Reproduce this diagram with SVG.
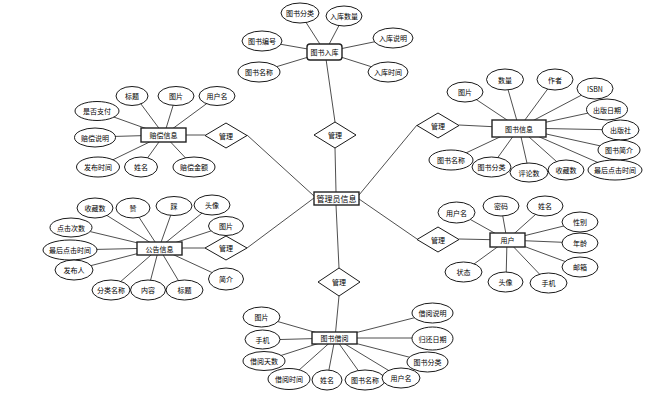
<svg xmlns="http://www.w3.org/2000/svg" width="658" height="405" viewBox="0 0 658 405">
<style>
.e{fill:#fff;stroke:#000;stroke-width:0.9}
.b{fill:#fff;stroke:#222;stroke-width:1.4}
.d{fill:#fff;stroke:#000;stroke-width:0.9}
.c line{stroke:#222;stroke-width:0.8}
text{font-family:"Noto Sans CJK SC","Liberation Sans",sans-serif;font-size:7px;text-anchor:middle;dominant-baseline:central;fill:#000}
.t{font-size:8px}
</style>
<rect width="658" height="405" fill="#fff"/>
<g class="c" id="connectors">
<!-- center relations -->
<line x1="325" y1="52" x2="335" y2="122"/>
<line x1="335" y1="148" x2="336" y2="192"/>
<line x1="164" y1="135" x2="205" y2="135"/>
<line x1="247" y1="135" x2="314" y2="196"/>
<line x1="159" y1="248" x2="205" y2="248"/>
<line x1="247" y1="248" x2="314" y2="198"/>
<line x1="459" y1="125" x2="519" y2="128"/>
<line x1="417" y1="125" x2="359" y2="195"/>
<line x1="459" y1="239" x2="507" y2="240"/>
<line x1="417" y1="239" x2="359" y2="199"/>
<line x1="336" y1="205" x2="339" y2="268"/>
<line x1="339" y1="296" x2="335" y2="338"/>
<!-- 图书入库 -->
<line x1="325" y1="52" x2="300" y2="13"/>
<line x1="325" y1="52" x2="344" y2="16"/>
<line x1="325" y1="52" x2="262" y2="41"/>
<line x1="325" y1="52" x2="393" y2="38"/>
<line x1="325" y1="52" x2="259" y2="72"/>
<line x1="325" y1="52" x2="388" y2="72"/>
<!-- 赔偿信息 -->
<line x1="164" y1="135" x2="135" y2="96"/>
<line x1="164" y1="135" x2="176" y2="96"/>
<line x1="164" y1="135" x2="217" y2="96"/>
<line x1="164" y1="135" x2="97" y2="111"/>
<line x1="164" y1="135" x2="95" y2="137"/>
<line x1="164" y1="135" x2="98" y2="167"/>
<line x1="164" y1="135" x2="141" y2="167"/>
<line x1="164" y1="135" x2="194" y2="167"/>
<!-- 图书信息 -->
<line x1="519" y1="128" x2="465" y2="92"/>
<line x1="519" y1="128" x2="505" y2="79"/>
<line x1="519" y1="128" x2="555" y2="79"/>
<line x1="519" y1="128" x2="595" y2="88"/>
<line x1="519" y1="128" x2="607" y2="109"/>
<line x1="519" y1="128" x2="621" y2="130"/>
<line x1="519" y1="128" x2="619" y2="150"/>
<line x1="519" y1="128" x2="615" y2="170"/>
<line x1="519" y1="128" x2="566" y2="170"/>
<line x1="519" y1="128" x2="529" y2="172"/>
<line x1="519" y1="128" x2="491" y2="167"/>
<line x1="519" y1="128" x2="451" y2="160"/>
<!-- 公告信息 -->
<line x1="159" y1="248" x2="95" y2="208"/>
<line x1="159" y1="248" x2="133" y2="208"/>
<line x1="159" y1="248" x2="174" y2="206"/>
<line x1="159" y1="248" x2="212" y2="205"/>
<line x1="159" y1="248" x2="226" y2="226"/>
<line x1="159" y1="248" x2="71" y2="227"/>
<line x1="159" y1="248" x2="70" y2="250"/>
<line x1="159" y1="248" x2="74" y2="270"/>
<line x1="159" y1="248" x2="111" y2="290"/>
<line x1="159" y1="248" x2="148" y2="290"/>
<line x1="159" y1="248" x2="184" y2="290"/>
<line x1="159" y1="248" x2="226" y2="279"/>
<!-- 用户 -->
<line x1="507" y1="240" x2="457" y2="212"/>
<line x1="507" y1="240" x2="501" y2="206"/>
<line x1="507" y1="240" x2="545" y2="206"/>
<line x1="507" y1="240" x2="580" y2="222"/>
<line x1="507" y1="240" x2="580" y2="243"/>
<line x1="507" y1="240" x2="580" y2="267"/>
<line x1="507" y1="240" x2="548" y2="283"/>
<line x1="507" y1="240" x2="506" y2="282"/>
<line x1="507" y1="240" x2="463" y2="272"/>
<!-- 图书借阅 -->
<line x1="335" y1="338" x2="262" y2="317"/>
<line x1="335" y1="338" x2="262" y2="340"/>
<line x1="335" y1="338" x2="264" y2="361"/>
<line x1="335" y1="338" x2="289" y2="379"/>
<line x1="335" y1="338" x2="327" y2="380"/>
<line x1="335" y1="338" x2="365" y2="380"/>
<line x1="335" y1="338" x2="401" y2="378"/>
<line x1="335" y1="338" x2="428" y2="362"/>
<line x1="335" y1="338" x2="433" y2="338"/>
<line x1="335" y1="338" x2="433" y2="313"/>
</g>

<!-- relationships -->
<g id="rel-top"><polygon class="d" points="335,122 356,135 335,148 314,135"/><text x="335" y="135">管理</text></g>
<g id="rel-lefttop"><polygon class="d" points="226,123 247,135.5 226,148 205,135.5"/><text x="226" y="135.5">管理</text></g>
<g id="rel-righttop"><polygon class="d" points="438,113 459,125.5 438,138 417,125.5"/><text x="438" y="125.5">管理</text></g>
<g id="rel-leftbottom"><polygon class="d" points="226,236 247,248 226,260 205,248"/><text x="226" y="248">管理</text></g>
<g id="rel-rightbottom"><polygon class="d" points="438,227 459,239.5 438,252 417,239.5"/><text x="438" y="239.5">管理</text></g>
<g id="rel-bottom"><polygon class="d" points="339,268 360,282 339,296 318,282"/><text x="339" y="282">管理</text></g>

<!-- center -->
<g id="admin"><rect class="b" x="314" y="192" width="45" height="13"/><text class="t" x="336.5" y="198.5">管理员信息</text></g>

<!-- 图书入库 -->
<g id="stockin"><rect class="b" x="307" y="44" width="35" height="16" rx="3"/><text x="324.5" y="52">图书入库</text></g>
<g id="stockin-a1"><ellipse class="e" cx="300" cy="13" rx="19" ry="10"/><text x="300" y="13">图书分类</text></g>
<g id="stockin-a2"><ellipse class="e" cx="344" cy="16" rx="18" ry="10"/><text x="344" y="16">入库数量</text></g>
<g id="stockin-a3"><ellipse class="e" cx="262" cy="41" rx="20" ry="10"/><text x="262" y="41">图书编号</text></g>
<g id="stockin-a4"><ellipse class="e" cx="393" cy="38" rx="20" ry="10"/><text x="393" y="38">入库说明</text></g>
<g id="stockin-a5"><ellipse class="e" cx="259" cy="72" rx="21" ry="10"/><text x="259" y="72">图书名称</text></g>
<g id="stockin-a6"><ellipse class="e" cx="388" cy="72" rx="20" ry="10"/><text x="388" y="72">入库时间</text></g>

<!-- 赔偿信息 -->
<g id="comp"><rect class="b" x="141" y="128" width="45" height="14"/><text x="163.5" y="135">赔偿信息</text></g>
<g id="comp-a1"><ellipse class="e" cx="132" cy="96" rx="16" ry="9.5"/><text x="132" y="96">标题</text></g>
<g id="comp-a2"><ellipse class="e" cx="176" cy="96" rx="18" ry="9.5"/><text x="176" y="96">图片</text></g>
<g id="comp-a3"><ellipse class="e" cx="217" cy="96" rx="18" ry="9.5"/><text x="217" y="96">用户名</text></g>
<g id="comp-a4"><ellipse class="e" cx="97" cy="111" rx="22" ry="9.5"/><text x="97" y="111">是否支付</text></g>
<g id="comp-a5"><ellipse class="e" cx="95" cy="137.5" rx="20.5" ry="9.5"/><text x="95" y="137.5">赔偿说明</text></g>
<g id="comp-a6"><ellipse class="e" cx="98" cy="167" rx="21.5" ry="10"/><text x="98" y="167">发布时间</text></g>
<g id="comp-a7"><ellipse class="e" cx="141" cy="167" rx="16.5" ry="10"/><text x="141" y="167">姓名</text></g>
<g id="comp-a8"><ellipse class="e" cx="194" cy="167" rx="21" ry="10"/><text x="194" y="167">赔偿金额</text></g>

<!-- 图书信息 -->
<g id="book"><rect class="b" x="492" y="120" width="54" height="17"/><text x="519" y="128.5">图书信息</text></g>
<g id="book-a1"><ellipse class="e" cx="465" cy="92" rx="18" ry="10"/><text x="465" y="92">图片</text></g>
<g id="book-a2"><ellipse class="e" cx="505" cy="79.5" rx="18.5" ry="10.5"/><text x="505" y="79.5">数量</text></g>
<g id="book-a3"><ellipse class="e" cx="555" cy="79.5" rx="18" ry="10.5"/><text x="555" y="79.5">作者</text></g>
<g id="book-a4"><ellipse class="e" cx="595" cy="88.5" rx="18" ry="10.5"/><text x="595" y="88.5">ISBN</text></g>
<g id="book-a5"><ellipse class="e" cx="607" cy="109.5" rx="20.5" ry="10.5"/><text x="607" y="109.5">出版日期</text></g>
<g id="book-a6"><ellipse class="e" cx="620.5" cy="130" rx="18.5" ry="10"/><text x="620.5" y="130">出版社</text></g>
<g id="book-a7"><ellipse class="e" cx="619" cy="150" rx="21" ry="10"/><text x="619" y="150">图书简介</text></g>
<g id="book-a8"><ellipse class="e" cx="615" cy="170" rx="27" ry="10"/><text x="615" y="170">最后点击时间</text></g>
<g id="book-a9"><ellipse class="e" cx="566" cy="170" rx="18" ry="10"/><text x="566" y="170">收藏数</text></g>
<g id="book-a10"><ellipse class="e" cx="529" cy="172.5" rx="19" ry="9.5"/><text x="529" y="172.5">评论数</text></g>
<g id="book-a11"><ellipse class="e" cx="491.5" cy="167" rx="19.5" ry="10"/><text x="491.5" y="167">图书分类</text></g>
<g id="book-a12"><ellipse class="e" cx="451" cy="160" rx="22" ry="10"/><text x="451" y="160">图书名称</text></g>

<!-- 公告信息 -->
<g id="notice"><rect class="b" x="137" y="242" width="45" height="13"/><text x="159.5" y="248.5">公告信息</text></g>
<g id="notice-a1"><ellipse class="e" cx="95" cy="208" rx="18" ry="10"/><text x="95" y="208">收藏数</text></g>
<g id="notice-a2"><ellipse class="e" cx="133" cy="208" rx="17" ry="10"/><text x="133" y="208">赞</text></g>
<g id="notice-a3"><ellipse class="e" cx="174" cy="206" rx="18" ry="9.5"/><text x="174" y="206">踩</text></g>
<g id="notice-a4"><ellipse class="e" cx="212" cy="205" rx="18" ry="10"/><text x="212" y="205">头像</text></g>
<g id="notice-a5"><ellipse class="e" cx="226" cy="226" rx="17.5" ry="9.5"/><text x="226" y="226">图片</text></g>
<g id="notice-a6"><ellipse class="e" cx="71" cy="227.5" rx="21" ry="9.5"/><text x="71" y="227.5">点击次数</text></g>
<g id="notice-a7"><ellipse class="e" cx="70" cy="250" rx="27" ry="10"/><text x="70" y="250">最后点击时间</text></g>
<g id="notice-a8"><ellipse class="e" cx="74" cy="270" rx="19" ry="10"/><text x="74" y="270">发布人</text></g>
<g id="notice-a9"><ellipse class="e" cx="111" cy="290" rx="19" ry="10"/><text x="111" y="290">分类名称</text></g>
<g id="notice-a10"><ellipse class="e" cx="148" cy="290" rx="17.5" ry="10"/><text x="148" y="290">内容</text></g>
<g id="notice-a11"><ellipse class="e" cx="184.5" cy="290" rx="18.5" ry="10"/><text x="184.5" y="290">标题</text></g>
<g id="notice-a12"><ellipse class="e" cx="226" cy="279" rx="17.5" ry="11"/><text x="226" y="279">简介</text></g>

<!-- 用户 -->
<g id="user"><rect class="b" x="490" y="233" width="35" height="14"/><text x="507.5" y="240">用户</text></g>
<g id="user-a1"><ellipse class="e" cx="456.5" cy="212.5" rx="18.5" ry="10.5"/><text x="456.5" y="212.5">用户名</text></g>
<g id="user-a2"><ellipse class="e" cx="501" cy="206" rx="18" ry="10"/><text x="501" y="206">密码</text></g>
<g id="user-a3"><ellipse class="e" cx="545" cy="206" rx="18" ry="10"/><text x="545" y="206">姓名</text></g>
<g id="user-a4"><ellipse class="e" cx="580" cy="222" rx="18" ry="10"/><text x="580" y="222">性别</text></g>
<g id="user-a5"><ellipse class="e" cx="580" cy="243" rx="18" ry="10"/><text x="580" y="243">年龄</text></g>
<g id="user-a6"><ellipse class="e" cx="580" cy="267" rx="18" ry="10"/><text x="580" y="267">邮箱</text></g>
<g id="user-a7"><ellipse class="e" cx="548.5" cy="283" rx="18.5" ry="10"/><text x="548.5" y="283">手机</text></g>
<g id="user-a8"><ellipse class="e" cx="505.5" cy="282" rx="17.5" ry="10"/><text x="505.5" y="282">头像</text></g>
<g id="user-a9"><ellipse class="e" cx="463.5" cy="272" rx="18.5" ry="10"/><text x="463.5" y="272">状态</text></g>

<!-- 图书借阅 -->
<g id="borrow"><rect class="b" x="312" y="332" width="45" height="12"/><text x="334.5" y="338">图书借阅</text></g>
<g id="borrow-a1"><ellipse class="e" cx="261.5" cy="317" rx="18.5" ry="10"/><text x="261.5" y="317">图片</text></g>
<g id="borrow-a2"><ellipse class="e" cx="262.5" cy="339.5" rx="17.5" ry="9.5"/><text x="262.5" y="339.5">手机</text></g>
<g id="borrow-a3"><ellipse class="e" cx="264" cy="361" rx="21" ry="9.5"/><text x="264" y="361">借阅天数</text></g>
<g id="borrow-a4"><ellipse class="e" cx="289" cy="379" rx="21" ry="10.5"/><text x="289" y="379">借阅时间</text></g>
<g id="borrow-a5"><ellipse class="e" cx="327" cy="380" rx="15" ry="10"/><text x="327" y="380">姓名</text></g>
<g id="borrow-a6"><ellipse class="e" cx="365" cy="380" rx="20" ry="10"/><text x="365" y="380">图书名称</text></g>
<g id="borrow-a7"><ellipse class="e" cx="401" cy="378" rx="19" ry="10"/><text x="401" y="378">用户名</text></g>
<g id="borrow-a8"><ellipse class="e" cx="427.5" cy="362" rx="20.5" ry="10"/><text x="427.5" y="362">图书分类</text></g>
<g id="borrow-a9"><ellipse class="e" cx="432.5" cy="338.5" rx="20.5" ry="11.5"/><text x="432.5" y="338.5">归还日期</text></g>
<g id="borrow-a10"><ellipse class="e" cx="432.5" cy="313" rx="20.5" ry="10"/><text x="432.5" y="313">借阅说明</text></g>
</svg>
